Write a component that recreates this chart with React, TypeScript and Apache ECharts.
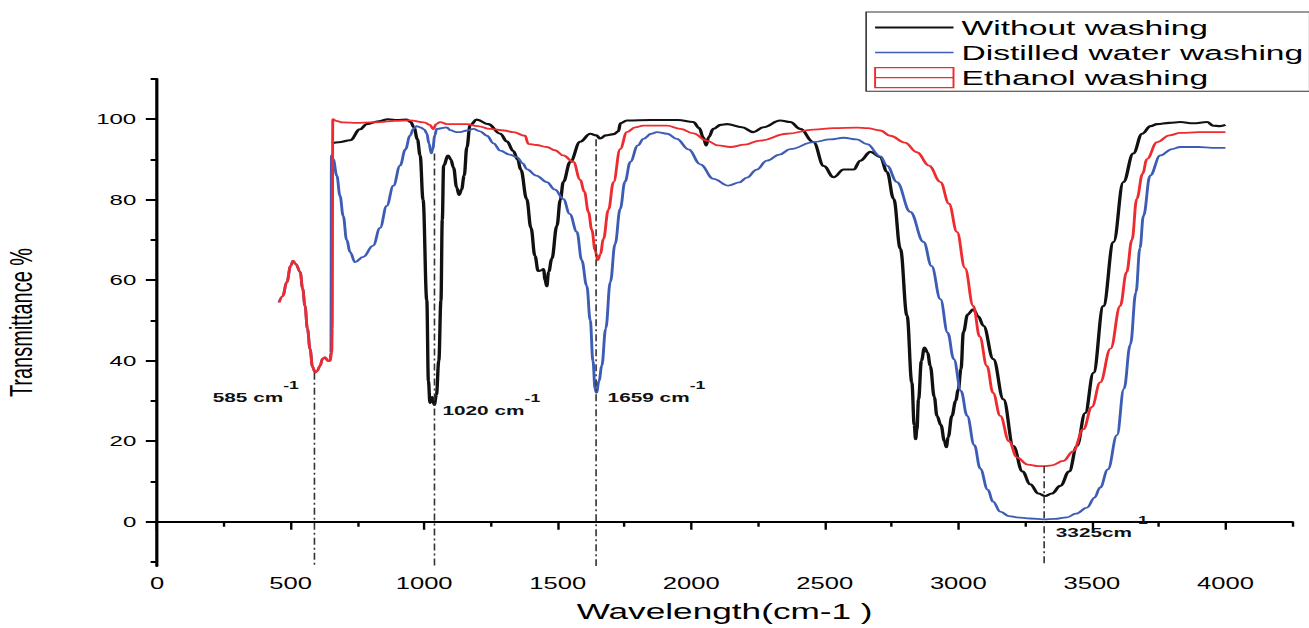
import React, { useEffect, useRef } from "react";
import * as echarts from "echarts";

// The reference figure is horizontally stretched; the chart is drawn narrower and stretched by CSS.
const STRETCH = 1.6;
const PAGE_W = 1309;
const PAGE_H = 628;
const CHART_W = Math.round(PAGE_W / STRETCH);

const FONT = '"Liberation Sans", Arial, Helvetica, sans-serif';
const BLACK = "#111111";
const BLUE = "#3d5cb5";
const RED = "#ee2b2e";

// ---- data (wavenumber cm-1, transmittance %) ----
const withoutWashing: [number, number][] = [
  [655, 94.0], [680, 94.3], [723, 94.8], [760, 97.5], [785, 98.8], [830, 99.5], [865, 100], [900, 99.8],
  [935, 99.9], [950, 99.3], [962, 98], [975, 95], [985, 91], [996, 80], [1010, 55], [1016, 35], [1022, 29.5],
  [1030, 31], [1038, 29], [1046, 31.5], [1055, 40], [1063, 55], [1068, 75], [1073, 88.5], [1090, 91],
  [1100, 90], [1110, 88], [1122, 83], [1131, 81.2], [1140, 82.5], [1150, 86], [1160, 93], [1172, 98.5],
  [1197, 99.9], [1240, 98.8], [1285, 96.4], [1310, 94.5], [1334, 92.1], [1350, 90], [1362, 87.5],
  [1384, 80.2], [1400, 73], [1415, 66], [1427, 62.3], [1440, 62.5], [1447, 62.8], [1453, 60], [1459, 58.5],
  [1466, 62], [1478, 65.3], [1497, 73.5], [1510, 80], [1521, 84.4], [1547, 89.4], [1584, 94.4], [1622, 96.4],
  [1645, 96], [1659, 95.2], [1680, 96], [1710, 96.3], [1727, 97], [1735, 99], [1759, 99.7], [1850, 99.8],
  [1950, 99.8], [2008, 99.3], [2030, 97.8], [2045, 95.5], [2056, 93.5], [2065, 95.5], [2083, 97.6],
  [2110, 98.6], [2134, 98.8], [2190, 98], [2233, 96.8], [2270, 98], [2333, 99.7], [2371, 99.3], [2408, 97.6],
  [2458, 94.3], [2496, 88.4], [2533, 85.6], [2571, 87.5], [2608, 87.5], [2633, 89.7], [2671, 91.9],
  [2708, 90.6], [2733, 86.9], [2758, 80.2], [2783, 67.8], [2808, 51.2], [2826, 34.6], [2835, 24],
  [2840, 20.5], [2845, 23], [2851, 30.4], [2862, 40], [2873, 43.3], [2885, 42], [2895, 38.7], [2910, 31],
  [2920, 26.3], [2935, 24], [2948, 20], [2955, 18.5], [2962, 21], [2976, 26.3], [2990, 30], [3000, 32.9],
  [3010, 38], [3019, 47.1], [3035, 51.5], [3056, 52.8], [3075, 51], [3094, 48.7], [3131, 40.4],
  [3169, 30.4], [3206, 18.8], [3240, 12.5], [3269, 9.3], [3300, 7], [3325, 6.4], [3350, 7], [3382, 8.9],
  [3415, 12.5], [3444, 18.8], [3475, 27], [3506, 37], [3543, 53.6], [3581, 69.5], [3618, 84.4],
  [3655, 91.5], [3688, 96.4], [3720, 98.3], [3744, 98.8], [3790, 99.1], [3831, 99.3], [3880, 99],
  [3931, 99.3], [3955, 98.4], [3980, 98.3], [4000, 98.6],
];

const distilledWater: [number, number][] = [
  [457, 54.5], [470, 56], [486, 59.5], [500, 63.5], [509, 64.8], [520, 64], [536, 62], [545, 58],
  [554, 53.6], [563, 48], [573, 42.9], [582, 38.5], [592, 37.1], [600, 37.5], [610, 38.7], [620, 40.5],
  [629, 40.8], [640, 40], [648, 40], [651, 42], [653, 91], [660, 90], [673, 86], [685, 81], [697, 76],
  [710, 70], [723, 67], [741, 64.5], [772, 65.8], [809, 68.6], [835, 73], [860, 78.5], [885, 83.5],
  [910, 88.5], [930, 92.5], [947, 95.9], [960, 97.6], [972, 98.3], [985, 98], [1000, 97.5], [1010, 96.5],
  [1018, 94], [1027, 91.5], [1032, 92.5], [1040, 96], [1047, 97.6], [1085, 98], [1097, 97.3],
  [1122, 96.8], [1135, 96.8], [1160, 97.2], [1184, 97.6], [1210, 97], [1235, 95.9], [1260, 94],
  [1285, 92.2], [1320, 91.2], [1347, 90.6], [1370, 89], [1384, 87.6], [1420, 86], [1459, 84.4],
  [1490, 82.5], [1521, 80.2], [1545, 76.5], [1572, 72], [1590, 65], [1609, 58.6], [1622, 50],
  [1632, 40], [1640, 33], [1645, 32], [1655, 35], [1665, 38.7], [1680, 48], [1697, 59.5], [1715, 69],
  [1734, 77.7], [1752, 84.5], [1772, 89.4], [1800, 93.5], [1821, 95.1], [1850, 96.4], [1871, 96.8],
  [1910, 96.4], [1946, 95.1], [1990, 92.5], [2034, 88.8], [2083, 85.2], [2139, 83.5], [2180, 84.3],
  [2208, 85.5], [2245, 87.5], [2283, 89.7], [2330, 91.2], [2371, 92.6], [2458, 94.3], [2520, 95],
  [2571, 95.4], [2620, 95], [2658, 93.8], [2708, 90.8], [2733, 88.5], [2770, 84.4], [2820, 77],
  [2870, 69.5], [2900, 63.5], [2933, 55.3], [2960, 47], [2983, 40.4], [3010, 32.5], [3033, 26.3],
  [3060, 19], [3082, 13.2], [3110, 8], [3130, 5], [3157, 2.5], [3190, 1.4], [3219, 1.1], [3270, 0.8],
  [3318, 0.6], [3360, 0.7], [3407, 1.1], [3440, 2], [3482, 3.5], [3510, 6], [3531, 8.5], [3560, 13],
  [3594, 21.5], [3620, 33], [3644, 44], [3665, 57], [3680, 68], [3693, 76], [3718, 86], [3756, 91],
  [3800, 92.6], [3831, 93.1], [3900, 93.1], [3950, 92.9], [4000, 92.9],
];

const ethanolWashing: [number, number][] = [
  [457, 54.5], [470, 56], [486, 59.5], [500, 63.5], [509, 64.8], [520, 64], [536, 62], [545, 58],
  [554, 53.6], [563, 48], [573, 42.9], [582, 38.5], [592, 37.1], [600, 37.5], [610, 38.7], [620, 40.5],
  [629, 40.8], [640, 40], [648, 40], [654, 42], [656, 48], [658, 100], [670, 99.6], [697, 99.2],
  [748, 99.1], [800, 99.2], [835, 99.3], [890, 99.6], [947, 99.7], [1000, 99.2], [1022, 98.6],
  [1034, 97.5], [1045, 98.8], [1060, 99.3], [1085, 98.8], [1135, 98.8], [1160, 98.8], [1200, 98.3],
  [1247, 97.6], [1300, 97.2], [1334, 96.8], [1378, 95.9], [1390, 93.9], [1420, 93.6], [1459, 93.1],
  [1490, 92.3], [1521, 91], [1559, 89.4], [1584, 85], [1600, 82], [1615, 77], [1628, 72.5], [1640, 67.5],
  [1650, 65], [1660, 66.5], [1671, 70.2], [1690, 77.5], [1709, 84.4], [1734, 92.6], [1759, 96.8],
  [1790, 98], [1821, 98.4], [1909, 98.4], [1959, 97.6], [2008, 96.5], [2058, 94.7], [2100, 93.5],
  [2146, 93.1], [2200, 93.7], [2258, 94.7], [2358, 96.4], [2458, 97.4], [2533, 97.8], [2621, 97.9],
  [2658, 97.8], [2708, 97.2], [2745, 95.9], [2800, 94.2], [2845, 91.8], [2890, 88.5], [2933, 84.4],
  [2965, 79], [2995, 72], [3025, 63], [3056, 53.6], [3080, 46], [3107, 38.7], [3130, 32], [3157, 26.3],
  [3190, 20], [3219, 16], [3260, 14.2], [3300, 13.8], [3318, 13.8], [3350, 14], [3393, 15.1],
  [3430, 17.5], [3468, 23], [3500, 28.5], [3531, 34.6], [3570, 43], [3606, 53.6], [3630, 62], [3650, 70],
  [3668, 80.2], [3690, 86.5], [3706, 90.1], [3744, 94.3], [3790, 96], [3831, 96.6], [3900, 96.8],
  [4000, 96.8],
];

const xMajorTicks = [0, 500, 1000, 1500, 2000, 2500, 3000, 3500, 4000];
const xMinorTicks = [250, 750, 1250, 1750, 2250, 2750, 3250, 3750, 4250];
const yMajorTicks = [0, 20, 40, 60, 80, 100];
const yMinorTicks = [-10, 10, 30, 50, 70, 90, 110];

const X_MIN = 0;
const X_MAX = 4250;
const Y_MIN = -11;
const Y_MAX = 110;

// peak annotations: wavenumber of the drop line, value where it starts, label
const peakX = [585, 1035, 1642, 3320];
const peakTop = [37, 91.5, 95, 13.8];
const peakLabel = ["585 cm", "1020 cm", "1659 cm", "3325cm"];

// label layout (pixel offset from drop line, label height in axis units)
const labelAlign = ["right", "left", "left", "left"];
const labelDx = [-9, 5.6, 7.5, 7.5];
const labelY = [32.3, 29.1, 32.3, -1.2];

const plain = (v: number) => String(v);

export default function App() {
  const ref = useRef<HTMLDivElement>(null);

  useEffect(() => {
    if (!ref.current) return;
    const chart = echarts.init(ref.current, null, { renderer: "svg" });

    const lineSeries = (name: string, data: [number, number][], color: string, width: number, extra: any = {}) => ({
      name,
      type: "line",
      data,
      symbol: "none",
      showSymbol: false,
      smooth: 0.4,
      smoothMonotone: "x",
      lineStyle: { color, width },
      itemStyle: { color },
      z: 3,
      ...extra,
    });

    const option: any = {
      animation: false,
      backgroundColor: "#ffffff",
      textStyle: { fontFamily: FONT },
      grid: { left: 157 / STRETCH, right: CHART_W - 1292 / STRETCH, top: 79, bottom: 62, containLabel: false, outerBoundsMode: "none" },
      legend: {
        orient: "vertical",
        left: 866 / STRETCH,
        top: 12,
        padding: [5, 4, 3, 5],
        itemGap: 4,
        itemWidth: 49,
        itemHeight: 20,
        borderColor: "#333",
        borderWidth: 1,
        backgroundColor: "#fff",
        textStyle: { fontSize: 21, color: "#000", fontFamily: FONT },
        data: [
          { name: "Without washing", icon: "path://M0,0H49V2H0Z", itemStyle: { color: BLACK } },
          { name: "Distilled water washing", icon: "path://M0,0H49V1.7H0Z", itemStyle: { color: BLUE } },
          {
            name: "Ethanol washing",
            icon: "path://M0,0H49V10H0ZM0,10H49V20H0Z",
            itemStyle: { color: "rgba(0,0,0,0)", borderColor: RED, borderWidth: 1.2 },
          },
        ],
      },
      xAxis: [
        {
          type: "value",
          min: X_MIN,
          max: X_MAX,
          position: "bottom",
          name: "Wavelength(cm-1 )",
          nameLocation: "middle",
          nameGap: 34,
          nameTextStyle: { fontSize: 22, color: "#000", fontFamily: FONT },
          axisLine: { show: true, lineStyle: { color: "#000", width: 2 } },
          axisTick: { show: true, customValues: xMajorTicks, length: 8, lineStyle: { color: "#000", width: 1.5 } },
          axisLabel: { show: true, customValues: xMajorTicks, formatter: plain, fontSize: 16, color: "#000", margin: 10, fontFamily: FONT },
          splitLine: { show: false },
        },
        {
          type: "value",
          min: X_MIN,
          max: X_MAX,
          position: "bottom",
          axisLine: { show: false },
          axisTick: { show: true, customValues: xMinorTicks, length: 5, lineStyle: { color: "#000", width: 1.5 } },
          axisLabel: { show: false },
          splitLine: { show: false },
        },
      ],
      yAxis: [
        {
          type: "value",
          min: Y_MIN,
          max: Y_MAX,
          position: "left",
          name: "Transmittance %",
          nameLocation: "middle",
          nameGap: 75,
          nameTextStyle: { fontSize: 20, color: "#000", fontFamily: FONT },
          axisLine: { show: true, lineStyle: { color: "#000", width: 2 } },
          axisTick: { show: true, customValues: yMajorTicks, length: 7, lineStyle: { color: "#000", width: 2 } },
          axisLabel: { show: true, customValues: yMajorTicks, formatter: plain, fontSize: 15, color: "#000", margin: 13, fontFamily: FONT },
          splitLine: { show: false },
        },
        {
          type: "value",
          min: Y_MIN,
          max: Y_MAX,
          position: "left",
          axisLine: { show: false },
          axisTick: { show: true, customValues: yMinorTicks, length: 4, lineStyle: { color: "#000", width: 2 } },
          axisLabel: { show: false },
          splitLine: { show: false },
        },
      ],
      series: [
        lineSeries("Without washing", withoutWashing, BLACK, 2.1, {
          markLine: {
            silent: true,
            symbol: ["none", "none"],
            label: { show: false },
            lineStyle: { color: "#333", width: 1, type: [7, 3, 2, 3] },
            data: peakX.map((x, i) => [{ coord: [x, peakTop[i]] }, { coord: [x, Y_MIN] }]),
          },
        }),
        lineSeries("Distilled water washing", distilledWater, BLUE, 1.8),
        lineSeries("Ethanol washing", ethanolWashing, RED, 1.8),
      ],
    };

    chart.setOption(option);

    const graphics = peakX.map((x, i) => {
      const p = chart.convertToPixel({ xAxisIndex: 0, yAxisIndex: 0 }, [x, labelY[i]]) as number[];
      return {
        type: "text",
        x: p[0] + labelDx[i],
        y: p[1],
        z: 10,
        style: {
          text: `{m|${peakLabel[i]}}{s|-1}`,
          align: labelAlign[i],
          verticalAlign: "middle",
          fill: "#111",
          rich: {
            m: { fontSize: 13, fontWeight: "bold", fontFamily: FONT, lineHeight: 24, verticalAlign: "bottom", fill: "#111" },
            s: { fontSize: 11, fontWeight: "bold", fontFamily: FONT, lineHeight: 24, verticalAlign: "top", fill: "#111" },
          },
        },
      };
    });
    chart.setOption({ graphic: graphics });

    return () => chart.dispose();
  }, []);

  return (
    <div
      style={{
        position: "fixed",
        left: 0,
        top: 0,
        width: PAGE_W,
        height: PAGE_H,
        overflow: "hidden",
        background: "#fff",
      }}
    >
      <div
        ref={ref}
        style={{
          width: CHART_W,
          height: PAGE_H,
          transform: `scaleX(${PAGE_W / CHART_W})`,
          transformOrigin: "0 0",
        }}
      />
    </div>
  );
}
